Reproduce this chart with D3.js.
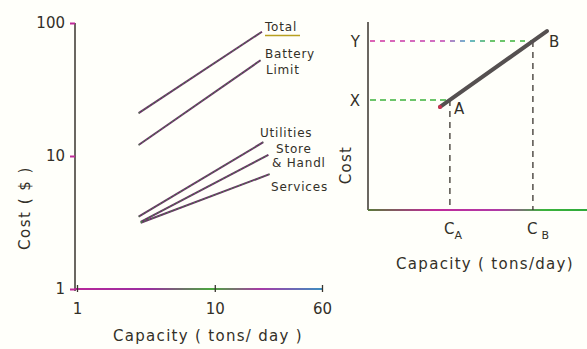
<!DOCTYPE html>
<html><head><meta charset="utf-8">
<script src="https://cdn.jsdelivr.net/npm/d3@7"></script>
<style>
html,body{margin:0;padding:0;background:#fffffa;}
svg{display:block;}
text{font-family:"DejaVu Sans",sans-serif;fill:#333028;}
</style></head>
<body>
<script>
// ---- Left chart data (log-log) ----
const seriesNames = ["Total","Battery Limit","Utilities","Store & Handl","Services"];
const startCapacity = [2.8, 2.8, 2.8, 2.9, 2.9];
const endCapacity   = [22, 21.5, 22.5, 24.5, 25];
const startCost     = [21, 12.1, 3.5, 3.2, 3.15];
const endCost       = [86, 52.5, 12.7, 10.2, 7.3];
const xTickValues = [1, 10, 60];
const yTickValues = [1, 10, 100];

// ---- Right chart (schematic, linear) ----
const pointLabels = ["A","B"];
const pointCapacity = [3.74, 7.53];
const pointCost = [5.85, 8.99];
const lineCapacity = [3.29, 8.17];
const lineCost = [5.48, 9.52];
const costLabels = ["X","Y"];
const capLabels = ["A","B"];

const W=587,H=349;
const svg=d3.select("body").append("svg").attr("width",W).attr("height",H);
const defs=svg.append("defs");
function grad(id,x1,x2,stops){
  const g=defs.append("linearGradient").attr("id",id).attr("gradientUnits","userSpaceOnUse")
    .attr("x1",x1).attr("x2",x2).attr("y1",0).attr("y2",0);
  stops.forEach(s=>g.append("stop").attr("offset",s[0]).attr("stop-color",s[1]));
}
grad("axgrad",75,322,[["0%","#b8279a"],["30%","#9a2fa0"],["55%","#4aa83c"],["75%","#a83aa6"],["100%","#3c8fc0"]]);
grad("axgrad2",368,587,[["0%","#5a7a3a"],["30%","#c02a9a"],["60%","#b03aa6"],["80%","#3cb33c"],["100%","#2faa3a"]]);
grad("ygrad",370,533,[["0%","#d0309e"],["45%","#c040b0"],["60%","#3aa0c0"],["75%","#3cb33c"],["100%","#3cb33c"]]);

// Left scales
const x=d3.scaleLog().domain([1,60]).range([77,322]);
const y=d3.scaleLog().domain([1,100]).range([289,23]);
const ink="#3a352e";

const left=svg.append("g");
// y axis
const yAxis=d3.axisLeft(y).tickValues(yTickValues).tickFormat(d3.format("d")).tickSize(5).tickSizeOuter(0);
const ya=left.append("g").attr("transform","translate(75,0)").call(yAxis);
ya.select(".domain").attr("stroke",ink).attr("stroke-width",1.5).attr("d","M0,23V291");
ya.selectAll(".tick line").attr("stroke","#c02a9a").attr("stroke-width",2);
ya.selectAll(".tick text").attr("font-size",15).attr("x",-10).attr("fill",ink);
// x axis
const xAxis=d3.axisBottom(x).tickValues(xTickValues).tickFormat(d3.format("d")).tickSize(4).tickSizeOuter(0);
const xa=left.append("g").attr("transform","translate(0,289)").call(xAxis);
xa.select(".domain").attr("stroke","url(#axgrad)").attr("stroke-width",2).attr("d","M75,0H322");
xa.selectAll(".tick line").attr("stroke",ink).attr("stroke-width",1.3).attr("y1",-4).attr("y2",3);
xa.selectAll(".tick text").attr("font-size",15).attr("y",14).attr("fill",ink);

// series lines
const idx=d3.range(seriesNames.length);
left.selectAll("line.s").data(idx).join("line").attr("class","s")
  .attr("x1",i=>x(startCapacity[i])).attr("y1",i=>y(startCost[i]))
  .attr("x2",i=>x(endCapacity[i])).attr("y2",i=>y(endCost[i]))
  .attr("stroke","#6a3068").attr("stroke-width",2);
left.selectAll("line.s2").data(idx).join("line").attr("class","s2")
  .attr("x1",i=>x(startCapacity[i])).attr("y1",i=>y(startCost[i]))
  .attr("x2",i=>x(endCapacity[i])).attr("y2",i=>y(endCost[i]))
  .attr("stroke","#3aa03a").attr("stroke-width",0.8).attr("stroke-dasharray","2,2");

// labels
const lab=(t,xx,yy)=>left.append("text").attr("x",xx).attr("y",yy).attr("font-size",12).attr("letter-spacing",0.8).text(t);
lab("Total",265,31);
left.append("line").attr("x1",265).attr("x2",300).attr("y1",35.5).attr("y2",35.5).attr("stroke","#b8a020").attr("stroke-width",1.5);
lab("Battery",265,58); lab("Limit",266,74);
lab("Utilities",260,137); lab("Store",276,153); lab("& Handl",272,167); lab("Services",271,191);

left.append("text").attr("x",208).attr("y",341).attr("text-anchor","middle").attr("font-size",15).attr("letter-spacing",1.3).attr("fill","#3a4a2c").text("Capacity ( tons/ day )");
left.append("text").attr("transform","translate(30,208) rotate(-90)").attr("text-anchor","middle").attr("font-size",15).attr("letter-spacing",1.5).attr("fill","#3a6a2c").text("Cost ( $ )");

// ---- Right chart ----
const xr=d3.scaleLinear().domain([0,10]).range([368,587]);
const yr=d3.scaleLinear().domain([0,10]).range([210,22]);
const right=svg.append("g");
right.append("line").attr("x1",xr(0)).attr("x2",xr(0)).attr("y1",yr(10)).attr("y2",yr(0)).attr("stroke",ink).attr("stroke-width",1.5);
right.append("line").attr("x1",xr(0)).attr("x2",xr(10)).attr("y1",yr(0)).attr("y2",yr(0)).attr("stroke","url(#axgrad2)").attr("stroke-width",2.2);

// dashed guides
right.append("line").attr("x1",xr(0)+2).attr("x2",xr(pointCapacity[0])).attr("y1",yr(pointCost[0])).attr("y2",yr(pointCost[0]))
  .attr("stroke","#3cb33c").attr("stroke-width",1.6).attr("stroke-dasharray","6,4");
right.append("line").attr("x1",xr(0)+2).attr("x2",xr(pointCapacity[1])).attr("y1",yr(pointCost[1])).attr("y2",yr(pointCost[1]))
  .attr("stroke","url(#ygrad)").attr("stroke-width",1.6).attr("stroke-dasharray","5,5");
pointCapacity.forEach((c,i)=>{
  right.append("line").attr("x1",xr(c)).attr("x2",xr(c)).attr("y1",yr(pointCost[i])).attr("y2",yr(0))
    .attr("stroke",ink).attr("stroke-width",1.3).attr("stroke-dasharray","6,5");
});
// thick cost line
right.append("line").attr("x1",xr(lineCapacity[0])).attr("y1",yr(lineCost[0])).attr("x2",xr(lineCapacity[1])).attr("y2",yr(lineCost[1]))
  .attr("stroke","#555050").attr("stroke-width",4).attr("stroke-linecap","round");
right.append("circle").attr("cx",xr(lineCapacity[0])).attr("cy",yr(lineCost[0])).attr("r",2).attr("fill","#d03050");

// point labels
right.append("text").attr("x",xr(pointCapacity[0])+4).attr("y",yr(pointCost[0])+14).attr("font-size",15).text(pointLabels[0]);
right.append("text").attr("x",xr(pointCapacity[1])+16).attr("y",yr(pointCost[1])+6).attr("font-size",15).text(pointLabels[1]);
// X, Y labels
pointCost.forEach((v,i)=>right.append("text").attr("x",xr(0)-8).attr("y",yr(v)+6).attr("text-anchor","end").attr("font-size",15).text(costLabels[i]));
// C_A, C_B
pointCapacity.forEach((c,i)=>{
  const t=right.append("text").attr("x",xr(c)-6).attr("y",yr(0)+24).attr("font-size",15);
  t.append("tspan").text("C");
  t.append("tspan").attr("dx",i?4:0).attr("dy",5).attr("font-size",11).text(capLabels[i]);
});
right.append("text").attr("x",485).attr("y",269).attr("text-anchor","middle").attr("font-size",15).attr("letter-spacing",1.3).attr("fill","#3a4a2c").text("Capacity ( tons/day)");
right.append("text").attr("transform","translate(351,165) rotate(-90)").attr("text-anchor","middle").attr("font-size",15).attr("letter-spacing",1.3).attr("fill","#3a4a2c").text("Cost");
</script>
</body></html>
